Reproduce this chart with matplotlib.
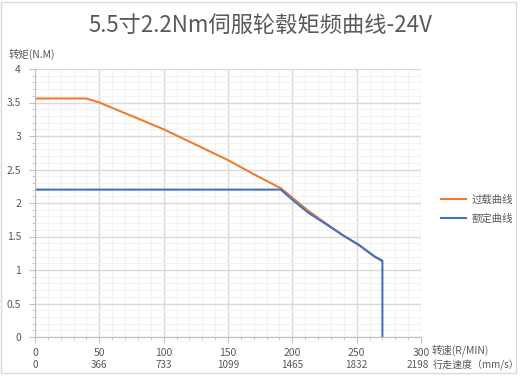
import matplotlib
matplotlib.use("Agg")
import matplotlib.pyplot as plt
from matplotlib.ticker import MultipleLocator
from matplotlib.patches import Rectangle
import matplotlib.transforms as mtransforms

plt.rcParams['font.family'] = ['Noto Sans CJK SC', 'DejaVu Sans']

title = "5.5寸2.2Nm伺服轮毂矩频曲线-24V"
overload_x = [0, 40, 50, 75, 100, 125, 150, 170, 191, 200, 212, 225, 240, 252, 264, 269]
overload_y = [3.56, 3.56, 3.50, 3.30, 3.10, 2.87, 2.64, 2.43, 2.22, 2.08, 1.89, 1.71, 1.51, 1.37, 1.20, 1.14]
rated_x = [0, 191, 200, 212, 225, 240, 252, 264, 270, 270]
rated_y = [2.2, 2.2, 2.05, 1.86, 1.70, 1.51, 1.37, 1.20, 1.14, 0]
speed_ticks = [0, 50, 100, 150, 200, 250, 300]
travel_labels = ["0", "366", "733", "1099", "1465", "1832", "2198"]
y_ticks = [0, 0.5, 1, 1.5, 2, 2.5, 3, 3.5, 4]
series_names = ["过载曲线", "额定曲线"]

txt = "#595959"
W, H = 521, 378
fig = plt.figure(figsize=(W / 100, H / 100), dpi=100)
ax = fig.add_axes([35 / W, 1 - 337 / H, (421 - 35) / W, (337 - 69) / H])

ax.set_xlim(0, 300)
ax.set_ylim(0, 4)
ax.xaxis.set_minor_locator(MultipleLocator(10))
ax.set_yticks(y_ticks)
ax.set_yticklabels([f"{v:g}" for v in y_ticks])
ax.yaxis.set_minor_locator(MultipleLocator(0.1))
ax.grid(which="major", color="#D9D9D9", linewidth=1.0)
ax.grid(which="minor", color="#F2F2F2", linewidth=0.8)
ax.set_axisbelow(True)
for s in ["top", "right"]:
    ax.spines[s].set_visible(False)
for s in ["left", "bottom"]:
    ax.spines[s].set_color("#BFBFBF")
    ax.spines[s].set_linewidth(0.8)
ax.tick_params(which="both", colors="#BFBFBF", labelcolor=txt, labelsize=7.5)
ax.tick_params(which="major", length=4)
ax.tick_params(which="minor", length=2)
ax.tick_params(axis="x", pad=4)
ax.tick_params(axis="y", pad=6)

ax.set_xticks(speed_ticks)
ax.set_xticklabels([str(v) for v in speed_ticks])

l1, = ax.plot(overload_x, overload_y, color="#ED7D31", linewidth=1.5, label=series_names[0])
l2, = ax.plot(rated_x, rated_y, color="#4472C4", linewidth=1.5, label=series_names[1])

trans = mtransforms.blended_transform_factory(ax.transData, fig.transFigure)
for i, (xv, lab) in enumerate(zip(speed_ticks, travel_labels)):
    if i == len(speed_ticks) - 1:
        ax.text(xv + 6, 1 - 365 / H, lab, transform=trans, ha="right", va="center",
                fontsize=7.2, color=txt)
    else:
        ax.text(xv, 1 - 365 / H, lab, transform=trans, ha="center", va="center",
                fontsize=7.2, color=txt)

fig.text(432 / W, 1 - 350 / H, "转速(R/MIN)", ha="left", va="center", fontsize=7.5, color=txt)
fig.text(433 / W, 1 - 365 / H, "行走速度（mm/s）", ha="left", va="center", fontsize=7.2, color=txt)
fig.text(9 / W, 1 - 54 / H, "转矩(N.M)", ha="left", va="center", fontsize=7.5, color=txt)
fig.text(260 / W, 1 - 25 / H, title, ha="center", va="center", fontsize=16, color=txt)

fig.legend(handles=[l1, l2], loc="center left", bbox_to_anchor=(432 / W, 1 - 209 / H),
           frameon=False, fontsize=7.5, labelcolor=txt, handlelength=2.4,
           handletextpad=0.5, labelspacing=0.8)

fig.patches.append(Rectangle((1 / W, 5 / H), (W - 6) / W, (H - 7) / H,
                             transform=fig.transFigure, fill=False,
                             edgecolor="#D9D9D9", linewidth=1.0))

fig.savefig("out.png", dpi=100)
